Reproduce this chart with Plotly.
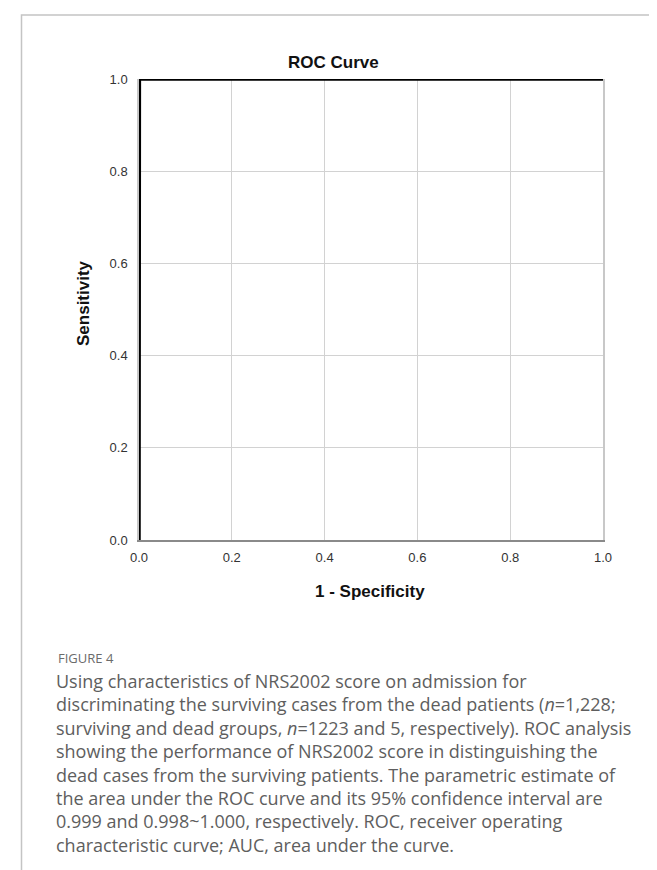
import plotly.graph_objects as go

# ROC curve data (1 - specificity, sensitivity)
fpr = [0.0, 0.0008, 1.0]
tpr = [0.0, 1.0, 1.0]

tick_vals = [0.0, 0.2, 0.4, 0.6, 0.8, 1.0]
tick_text = ["0.0", "0.2", "0.4", "0.6", "0.8", "1.0"]

chart_title = "ROC Curve"
x_title = "1 - Specificity"
y_title = "Sensitivity"
fig_label = "FIGURE 4"
caption_lines = [
    "Using characteristics of NRS2002 score on admission for",
    "discriminating the surviving cases from the dead patients (<i>n</i>=1,228;",
    "surviving and dead groups, <i>n</i>=1223 and 5, respectively). ROC analysis",
    "showing the performance of NRS2002 score in distinguishing the",
    "dead cases from the surviving patients. The parametric estimate of",
    "the area under the ROC curve and its 95% confidence interval are",
    "0.999 and 0.998~1.000, respectively. ROC, receiver operating",
    "characteristic curve; AUC, area under the curve.",
]

W, H = 657, 870
L, R, T, B = 131, 62, 71, 338

fig = go.Figure()
fig.add_trace(go.Scatter(
    x=fpr, y=tpr, mode="lines",
    line=dict(color="#000000", width=3.5),
    showlegend=False, hoverinfo="skip", cliponaxis=False,
))

axis_common = dict(
    range=[0, 1], tickvals=tick_vals, ticktext=tick_text,
    showgrid=True, gridcolor="#d2d2d2", gridwidth=1.2,
    zeroline=False, showline=True, linewidth=1.5,
    ticks="", tickfont=dict(family="Liberation Sans, Arial", size=13, color="#333333"),
    fixedrange=True,
)
fig.update_xaxes(**axis_common, linecolor="#8a8a8a", ticklabelstandoff=5)
fig.update_yaxes(**axis_common, linecolor="#c8c8c8", mirror=True, ticklabelstandoff=7)

annotations = [
    dict(text="<b>%s</b>" % chart_title, x=(325 - L) / (W - L - R), y=(532 - 55) / (532 - 71),
         xref="paper", yref="paper", xanchor="center", yanchor="middle", showarrow=False,
         font=dict(family="Liberation Sans, Arial", size=17, color="#111111")),
    dict(text="<b>%s</b>" % x_title, x=(362 - L) / (W - L - R), y=(532 - 583) / (532 - 71),
         xref="paper", yref="paper", xanchor="center", yanchor="middle", showarrow=False,
         font=dict(family="Liberation Sans, Arial", size=17, color="#111111")),
    dict(text="<b>%s</b>" % y_title, x=(75 - L) / (W - L - R), y=(532 - 295) / (532 - 71),
         xref="paper", yref="paper", xanchor="center", yanchor="middle", showarrow=False,
         textangle=-90,
         font=dict(family="Liberation Sans, Arial", size=17, color="#111111")),
    dict(text=fig_label, x=(48 - L) / (W - L - R), y=(532 - 650) / (532 - 71),
         xref="paper", yref="paper", xanchor="left", yanchor="middle", showarrow=False,
         font=dict(family="Open Sans", size=13, color="#6b6b6b")),
    dict(text="<br>".join(caption_lines), x=(46 - L) / (W - L - R), y=(532 - 659) / (532 - 71),
         xref="paper", yref="paper", xanchor="left", yanchor="top", align="left", showarrow=False,
         font=dict(family="Open Sans", size=18, color="#5e5e5e")),
]

fig.update_layout(
    width=W, height=H,
    margin=dict(l=L, r=R, t=T, b=B, pad=0),
    paper_bgcolor="white", plot_bgcolor="white",
    annotations=annotations,
    shapes=[dict(type="rect", xref="paper", yref="paper",
                 x0=(13.5 - L) / (W - L - R), x1=(655.5 - L) / (W - L - R),
                 y0=(532 - 880) / (532 - 71), y1=(532 - 7) / (532 - 71),
                 line=dict(color="#c4c4c4", width=1.5), fillcolor="rgba(0,0,0,0)", layer="below")],
)

fig.write_html("out.html")
